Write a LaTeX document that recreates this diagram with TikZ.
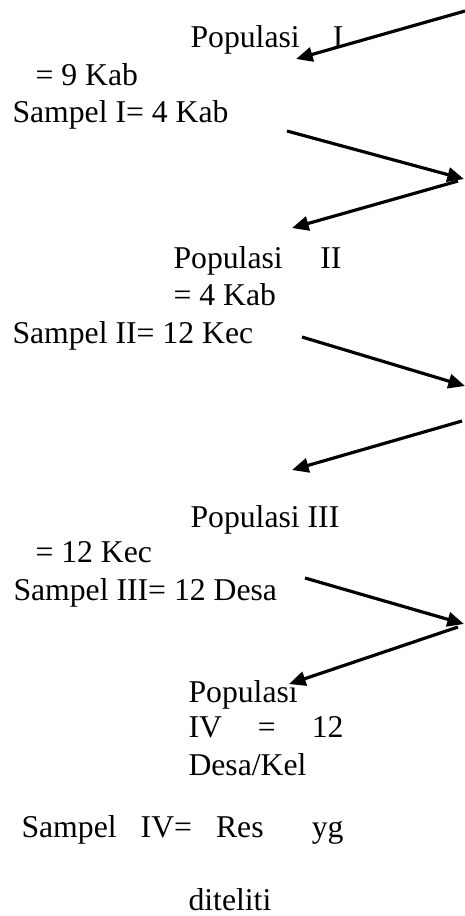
\documentclass[tikz,border=0pt]{standalone}
\usepackage{fontspec}
\setmainfont{Liberation Serif}
\usetikzlibrary{arrows.meta}
\newlength{\pxu}
\setlength{\pxu}{0.3785pt}
\tikzset{
  tline/.style={anchor=base west,inner sep=0pt,font=\fontsize{12pt}{14pt}\selectfont},
  flow/.style={line width=1.2pt,-{Triangle[length=6.3pt,width=5.4pt]}},
}

\begin{document}
\begin{tikzpicture}[x=0.3785pt,y=-0.3785pt]
	\useasboundingbox (0,0) rectangle (465,916);
	% stage I
	\node[tline] (pop1) at (190,47) {\makebox[153\pxu][s]{Populasi I}};
	\node[tline] (pop1n) at (35,85) {= 9 Kab};
	\node[tline] (samp1) at (12,122) {Sampel I= 4 Kab};
	% stage II
	\node[tline] (pop2) at (173,268) {\makebox[168\pxu][s]{Populasi II}};
	\node[tline] (pop2n) at (173,305) {= 4 Kab};
	\node[tline] (samp2) at (12,343) {Sampel II= 12 Kec};
	% stage III
	\node[tline] (pop3) at (190,527) {Populasi III};
	\node[tline] (pop3n) at (35,562) {= 12 Kec};
	\node[tline] (samp3) at (13,600) {Sampel III= 12 Desa};
	% stage IV
	\node[tline] (pop4) at (188,702) {Populasi};
	\node[tline] (pop4n) at (188,737) {\makebox[155\pxu][s]{IV = 12}};
	\node[tline] (pop4u) at (188,775) {Desa/Kel};
	\node[tline] (samp4) at (21,837) {\makebox[322\pxu][s]{Sampel IV= Res~~yg}};
	\node[tline] (samp4b) at (188,910) {diteliti};
	% arrow ends
	\coordinate (in1) at (465,11);
	\coordinate (to1) at (296,59);
	\coordinate (out1) at (287,131);
	\coordinate (turn1) at (464,179);
	\coordinate (back1) at (458,181);
	\coordinate (to2) at (292,228);
	\coordinate (out2) at (302,337);
	\coordinate (turn2) at (465,386);
	\coordinate (back2) at (462,421);
	\coordinate (to3) at (292,470);
	\coordinate (out3) at (305,578);
	\coordinate (turn3) at (464,624);
	\coordinate (back3) at (458,627);
	\coordinate (to4) at (289,684);
	\draw[flow] (in1) -- (to1);
	\draw[flow] (out1) -- (turn1);
	\draw[flow] (back1) -- (to2);
	\draw[flow] (out2) -- (turn2);
	\draw[flow] (back2) -- (to3);
	\draw[flow] (out3) -- (turn3);
	\draw[flow] (back3) -- (to4);
\end{tikzpicture}
\end{document}
